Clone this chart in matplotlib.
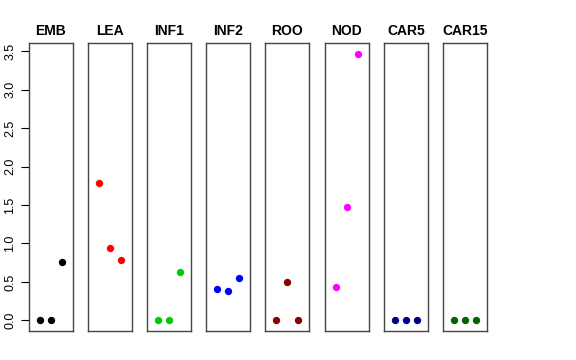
import matplotlib
matplotlib.use("Agg")
import matplotlib.pyplot as plt

groups = ["EMB", "LEA", "INF1", "INF2", "ROO", "NOD", "CAR5", "CAR15"]
colors = ["black", "#FF0000", "#00CD00", "#0000FF", "#8B0000", "#FF00FF", "#00008B", "#006400"]
values = [
    [0.0, 0.0, 0.76],
    [1.79, 0.94, 0.78],
    [0.0, 0.0, 0.63],
    [0.41, 0.38, 0.55],
    [0.0, 0.50, 0.0],
    [0.43, 1.48, 3.47],
    [0.0, 0.0, 0.0],
    [0.0, 0.0, 0.0],
]
yticks = [0.0, 0.5, 1.0, 1.5, 2.0, 2.5, 3.0, 3.5]

fig = plt.figure(figsize=(5.76, 3.6), dpi=100)
plt.rcParams["font.family"] = ["Liberation Sans", "DejaVu Sans"]

W, H = 576.0, 360.0
lefts = [29, 88, 147, 206, 265, 325, 384, 443]
pw = 44
top, bottom = 43, 331

ymax_data = max(max(v) for v in values)
pad = 0.04 * ymax_data

for i, name in enumerate(groups):
    ax = fig.add_axes([lefts[i] / W, (H - bottom) / H, pw / W, (bottom - top) / H])
    ax.scatter([1, 2, 3], values[i], s=28, color=colors[i], zorder=3, linewidths=0)
    ax.set_xlim(0, 4)
    ax.set_ylim(-pad, ymax_data + pad)
    ax.set_xticks([])
    ax.set_title(name, fontsize=10, fontweight="bold", pad=6)
    for s in ax.spines.values():
        s.set_color("#444444")
        s.set_linewidth(1.0)
    if i == 0:
        ax.set_yticks(yticks)
        ax.set_yticklabels(["%.1f" % t for t in yticks], rotation=90, va="center", fontsize=9)
        ax.tick_params(axis="y", length=6, pad=3)
    else:
        ax.set_yticks([])

fig.savefig("out.png", dpi=100)
